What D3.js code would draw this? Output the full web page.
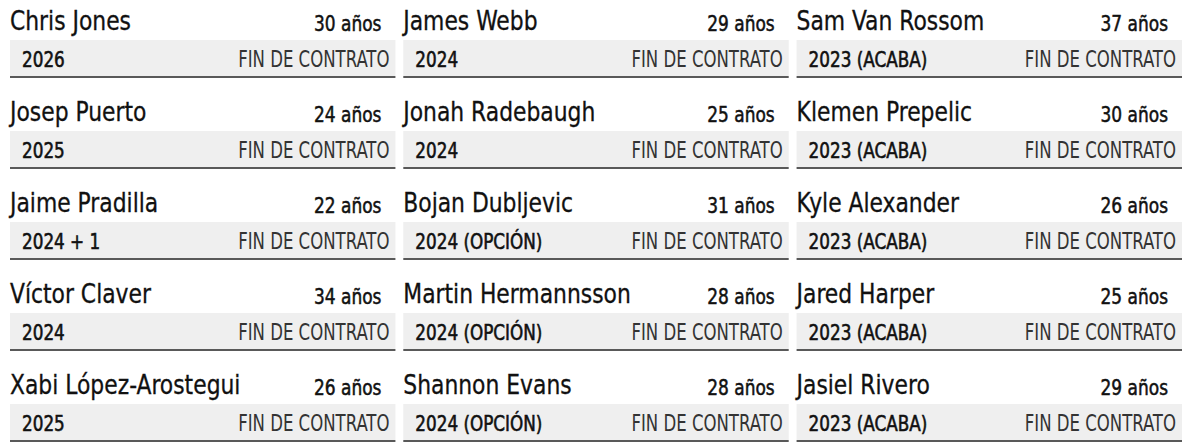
<!DOCTYPE html><html><head><meta charset="utf-8"><script src="https://cdn.jsdelivr.net/npm/d3@7"></script>
<style>body{margin:0;background:#fff}text{font-family:'DejaVu Sans Condensed','DejaVu Sans',sans-serif}</style></head><body><svg id="c" width="1200" height="445"></svg><script>
const names=["Chris Jones","Josep Puerto","Jaime Pradilla","Víctor Claver","Xabi López-Arostegui","James Webb","Jonah Radebaugh","Bojan Dubljevic","Martin Hermannsson","Shannon Evans","Sam Van Rossom","Klemen Prepelic","Kyle Alexander","Jared Harper","Jasiel Rivero"];
const ages=[30,24,22,34,26,29,25,31,28,28,37,30,26,25,29];
const contracts=["2026","2025","2024 + 1","2024","2025","2024","2024","2024 (OPCIÓN)","2024 (OPCIÓN)","2024 (OPCIÓN)","2023 (ACABA)","2023 (ACABA)","2023 (ACABA)","2023 (ACABA)","2023 (ACABA)"];
const label="FIN DE CONTRATO";
const svg=d3.select("#c");
const col=d3.scaleBand().domain([0,1,2]).range([10,1182]).paddingInner(0.02);
const row=d3.scaleLinear().domain([0,1]).range([0,91]);
const w=col.bandwidth();
function txt(g,x,y,f,anchor){return g.append("g").attr("transform",`translate(${x},${y}) scale(${f},1)`).append("text").attr("text-anchor",anchor);}
names.forEach((n,i)=>{
 const c=Math.floor(i/5),r=i%5,x=col(c),y=row(r);
 const g=svg.append("g").attr("transform",`translate(${x},${y})`);
 g.append("rect").attr("x",0).attr("y",40).attr("width",w).attr("height",36).attr("fill","#efefef");
 g.append("line").attr("x1",0).attr("x2",w).attr("y1",77).attr("y2",77).attr("stroke","#222").attr("stroke-width",1.5);
 txt(g,0,30,0.9,"start").attr("font-size",27).attr("fill","#111").attr("stroke","#111").attr("stroke-width",0.3).text(n);
 txt(g,w-14,31,0.9,"end").attr("font-size",21).attr("fill","#111").attr("stroke","#111").attr("stroke-width",0.5).text(ages[i]+" años");
 txt(g,12,67,0.85,"start").attr("font-size",22).attr("fill","#111").attr("stroke","#111").attr("stroke-width",0.6).text(contracts[i]);
 txt(g,w-6,67,0.8,"end").attr("font-size",23).attr("fill","#333").text(label);
});
</script></body></html>
